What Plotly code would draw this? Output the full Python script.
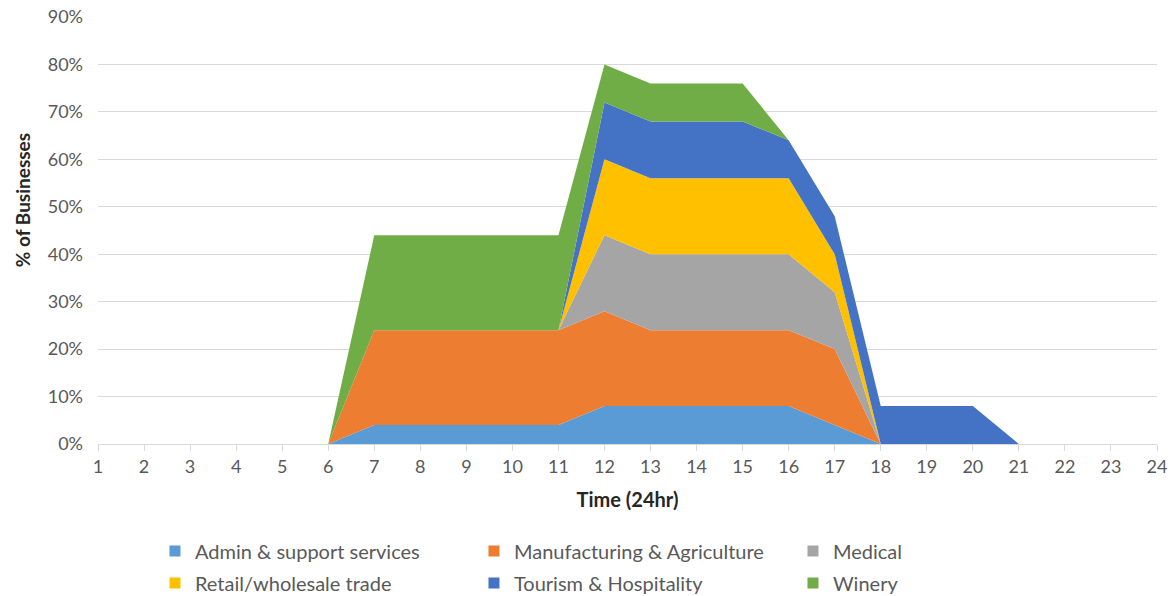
import plotly.graph_objects as go

hours = list(range(1, 25))

# Share of businesses (fraction) operating at each hour, by sector
admin = [0, 0, 0, 0, 0, 0, 0.04, 0.04, 0.04, 0.04, 0.04, 0.08, 0.08, 0.08, 0.08, 0.08, 0.04, 0, 0, 0, 0, 0, 0, 0]
manufacturing = [0, 0, 0, 0, 0, 0, 0.20, 0.20, 0.20, 0.20, 0.20, 0.20, 0.16, 0.16, 0.16, 0.16, 0.16, 0, 0, 0, 0, 0, 0, 0]
medical = [0, 0, 0, 0, 0, 0, 0, 0, 0, 0, 0, 0.16, 0.16, 0.16, 0.16, 0.16, 0.12, 0, 0, 0, 0, 0, 0, 0]
retail = [0, 0, 0, 0, 0, 0, 0, 0, 0, 0, 0, 0.16, 0.16, 0.16, 0.16, 0.16, 0.08, 0, 0, 0, 0, 0, 0, 0]
tourism = [0, 0, 0, 0, 0, 0, 0, 0, 0, 0, 0, 0.12, 0.12, 0.12, 0.12, 0.08, 0.08, 0.08, 0.08, 0.08, 0, 0, 0, 0]
winery = [0, 0, 0, 0, 0, 0, 0.20, 0.20, 0.20, 0.20, 0.20, 0.08, 0.08, 0.08, 0.08, 0, 0, 0, 0, 0, 0, 0, 0, 0]

series_names = ["Admin & support services", "Manufacturing & Agriculture", "Medical",
                "Retail/wholesale trade", "Tourism & Hospitality", "Winery"]
series_values = [admin, manufacturing, medical, retail, tourism, winery]
series_colors = ["#5B9BD5", "#ED7D31", "#A5A5A5", "#FFC000", "#4472C4", "#70AD47"]

y_ticks = [i / 10 for i in range(10)]

FONT = "Lato"
TICK_COLOR = "#595959"
TITLE_COLOR = "#262626"
GRID_COLOR = "#D9D9D9"

fig = go.Figure()

for name, vals, col in zip(series_names, series_values, series_colors):
    fig.add_trace(go.Scatter(
        x=hours, y=vals, name=name, stackgroup="one", mode="lines",
        line=dict(width=0, color=col), fillcolor=col, showlegend=False,
        hoverinfo="x+y+name",
    ))

# Square legend swatches, three per row across two legend rows
for i, (name, col) in enumerate(zip(series_names, series_colors)):
    fig.add_trace(go.Scatter(
        x=[None], y=[None], name=name, mode="markers",
        marker=dict(symbol="square", size=11, color=col), showlegend=True,
        legend="legend" if i < 3 else "legend2",
    ))

legend_common = dict(
    orientation="h", x=0.0538, xanchor="left", yanchor="middle",
    entrywidth=274, entrywidthmode="pixels", itemwidth=30,
    font=dict(family=FONT, size=20, color=TICK_COLOR),
    tracegroupgap=0, traceorder="normal", bgcolor="rgba(0,0,0,0)",
)

fig.update_layout(
    width=1172, height=596,
    margin=dict(l=98, r=15, t=17, b=152, autoexpand=False),
    plot_bgcolor="white", paper_bgcolor="white",
    font=dict(family=FONT, size=18, color=TICK_COLOR),
    showlegend=True,
    legend=dict(y=-0.2506, **legend_common),
    legend2=dict(y=-0.3255, **legend_common),
    xaxis=dict(
        range=[1, 24], tickmode="array", tickvals=hours, ticktext=[str(h) for h in hours],
        showgrid=False, showline=True, linecolor=GRID_COLOR, linewidth=1,
        ticks="outside", ticklen=6, tickcolor=GRID_COLOR,
        tickfont=dict(family=FONT, size=18, color=TICK_COLOR),
        title=dict(text="<b>Time (24hr)</b>", font=dict(family=FONT, size=20, color=TITLE_COLOR), standoff=17),
        zeroline=False, fixedrange=True, automargin=False,
    ),
    yaxis=dict(
        range=[0, 0.9], tickvals=y_ticks, tickformat=".0%",
        showgrid=True, gridcolor=GRID_COLOR, gridwidth=1,
        showline=False, zeroline=False, ticks="", ticklen=0, ticklabelstandoff=14,
        tickfont=dict(family=FONT, size=18, color=TICK_COLOR),
        fixedrange=True, automargin=False,
    ),
    annotations=[dict(
        text="<b>% of Businesses</b>", textangle=-90,
        xref="paper", yref="paper", x=-0.0718, y=0.571,
        xanchor="center", yanchor="middle", showarrow=False,
        font=dict(family=FONT, size=19, color=TITLE_COLOR),
    )],
)

fig.write_html("out.html")
